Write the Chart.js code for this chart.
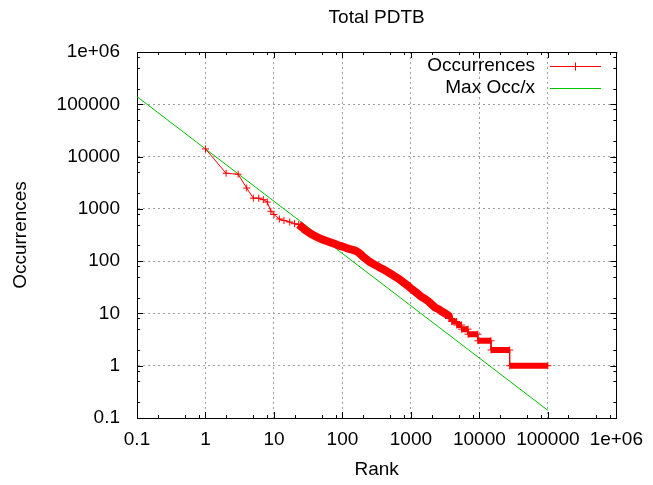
<!DOCTYPE html>
<html>
<head>
<meta charset="utf-8">
<title>Total PDTB</title>
<script src="https://cdn.jsdelivr.net/npm/chart.js@4.4.1/dist/chart.umd.min.js"></script>
<style>
  html, body { margin: 0; padding: 0; background: #ffffff; }
  canvas { display: block; }
</style>
</head>
<body>
<canvas id="rank-chart" width="653" height="485"></canvas>
<script>
// values
const rank = [1, 2, 3, 4, 5, 6, 7, 8, 9, 10,
  12, 14, 17, 20, 23,
  26, 28, 31, 35, 40, 45, 50, 56, 63, 71, 80, 90, 100,
  112, 125, 140, 155, 170, 185, 200, 225, 250, 280, 315, 355, 400, 450, 500, 560, 630, 710, 800, 900, 1000,
  1120, 1250, 1400, 1600, 1800, 2000, 2250, 2540, 2800, 3170, 3550,
  3600, 3950, 3950, 4670, 4670, 5500, 5500, 6840, 6840, 9500, 9500, 14800, 14800, 27700, 27700, 100000]
const occurrences = [14000, 4800, 4600, 2500, 1600, 1600, 1500, 1350, 900, 780,
  640, 600, 560, 520, 500,
  440, 400, 365, 330, 300, 280, 262, 248, 235, 222, 210, 198, 190,
  180, 172, 165, 158, 148, 135, 122, 108, 97, 89, 82, 75, 69, 63, 58, 53, 48, 43, 38, 34, 30,
  27, 24, 21, 19, 17, 15, 13, 12, 11, 10, 9,
  8, 8, 7, 7, 6, 6, 5, 5, 4, 4, 3, 3, 2, 2, 1, 1]

// Max Occ/x, end points
const fitRank = [0.1, 100000]
const fitOcc = [140000, 0.14]

const tickValues = [0.1, 1, 10, 100, 1000, 10000, 100000, 1000000]
const tickLabels = ['0.1', '1', '10', '100', '1000', '10000', '100000', '1e+06']
const minorSteps = [2, 5, 8]

const FONT = '"Liberation Sans", Arial, sans-serif'
const RED = '#ff0000'
const GREEN = '#00c000'
const bandFrom = 23 // where the + marks merge into a solid band

Chart.defaults.font.family = FONT
Chart.defaults.font.size = 19
Chart.defaults.color = '#000000'

const toPoints = (xs, ys) => xs.map((v, i) => ({ x: v, y: ys[i] }))

const labelFor = value => {
  const i = tickValues.indexOf(value)
  return i >= 0 ? tickLabels[i] : ''
}

const gridColor = ctx => {
  const v = ctx.tick && ctx.tick.value
  return (v === tickValues[0] || v === tickValues[tickValues.length - 1]) ? 'rgba(0,0,0,0)' : '#a0a0a0'
}

// border on top/right and gnuplot-style inward tics on all sides
const framePlugin = {
  id: 'frame',
  beforeDatasetsDraw(chart) {
    const { ctx, chartArea: a, scales: { x, y } } = chart
    const px = v => Math.round(v) + 0.5
    ctx.save()
    ctx.strokeStyle = '#000'
    ctx.lineWidth = 1
    ctx.beginPath()
    ctx.moveTo(a.left, px(a.top)); ctx.lineTo(a.right + 1, px(a.top))
    ctx.moveTo(px(a.right), a.top); ctx.lineTo(px(a.right), a.bottom)

    const tic = (val, len) => {
      const xx = x.getPixelForValue(val)
      if (xx >= a.left - 0.5 && xx <= a.right + 0.5) {
        ctx.moveTo(px(xx), a.bottom); ctx.lineTo(px(xx), a.bottom - len)
        ctx.moveTo(px(xx), a.top); ctx.lineTo(px(xx), a.top + len)
      }
      const yy = y.getPixelForValue(val)
      if (yy >= a.top - 0.5 && yy <= a.bottom + 0.5) {
        ctx.moveTo(a.left, px(yy)); ctx.lineTo(a.left + len, px(yy))
        ctx.moveTo(a.right, px(yy)); ctx.lineTo(a.right - len, px(yy))
      }
    }
    tickValues.forEach(v => {
      tic(v, 6)
      minorSteps.forEach(m => { if (v * m < 1000000) tic(v * m, 3) })
    })
    ctx.stroke()

    ctx.fillStyle = '#000'
    ctx.font = '19px ' + FONT
    ctx.textAlign = 'center'
    ctx.textBaseline = 'middle'
    ctx.fillText('Total PDTB', (a.left + a.right) / 2, 18)
    ctx.restore()
  }
}

// key in the top right corner, text to the left of the sample
const keyPlugin = {
  id: 'key',
  afterDatasetsDraw(chart) {
    const { ctx } = chart
    ctx.save()
    ctx.font = '19px ' + FONT
    ctx.textAlign = 'right'
    ctx.textBaseline = 'middle'
    chart.data.datasets.forEach((ds, i) => {
      const yy = 66 + i * 22
      ctx.fillStyle = '#000'
      ctx.fillText(ds.label, 535, yy)
      const ly = Math.round(yy) + 0.5
      ctx.strokeStyle = ds.borderColor
      ctx.lineWidth = 1
      ctx.beginPath()
      ctx.moveTo(550, ly); ctx.lineTo(601, ly)
      if (ds.pointRadius) {
        ctx.moveTo(575.5, ly - 4); ctx.lineTo(575.5, ly + 4)
      }
      ctx.stroke()
    })
    ctx.restore()
  }
}

const config = {
  type: 'line',
  data: {
    datasets: [{
      label: 'Occurrences',
      data: toPoints(rank, occurrences),
      borderColor: RED,
      backgroundColor: RED,
      borderWidth: 1,
      pointStyle: 'cross',
      pointRadius: 3.5,
      pointBorderColor: RED,
      pointBorderWidth: 1,
      tension: 0,
      segment: {
        borderWidth: ctx => {
          const a = ctx.p0.parsed, b = ctx.p1.parsed
          if (a.x < bandFrom || a.x === b.x) return 1
          return a.y === b.y ? 6 : 8
        }
      }
    }, {
      label: 'Max Occ/x',
      data: toPoints(fitRank, fitOcc),
      borderColor: GREEN,
      backgroundColor: GREEN,
      borderWidth: 1,
      pointRadius: 0,
      tension: 0
    }]
  },
  options: {
    responsive: false,
    animation: false,
    devicePixelRatio: 1,
    layout: { padding: { top: 52, right: 29, bottom: 0, left: 0 } },
    plugins: {
      legend: { display: false },
      tooltip: { enabled: false },
      title: { display: false }
    },
    scales: {
      x: {
        type: 'logarithmic',
        position: 'bottom',
        min: 0.1,
        max: 1000000,
        afterBuildTicks: scale => { scale.ticks = tickValues.map(v => ({ value: v })) },
        afterFit: scale => { scale.height = 67 },
        ticks: {
          autoSkip: false,
          maxRotation: 0,
          padding: 10,
          callback: value => labelFor(value)
        },
        grid: { color: gridColor, drawTicks: false, lineWidth: 1 },
        border: { display: true, color: '#000', width: 1, dash: [2, 3] },
        title: { display: true, text: 'Rank', padding: { top: 0, bottom: 4 } }
      },
      y: {
        type: 'logarithmic',
        position: 'left',
        min: 0.1,
        max: 1000000,
        afterBuildTicks: scale => { scale.ticks = tickValues.map(v => ({ value: v })) },
        afterFit: scale => { scale.width = 137 },
        ticks: {
          autoSkip: false,
          padding: 17,
          callback: value => labelFor(value)
        },
        grid: { color: gridColor, drawTicks: false, lineWidth: 1 },
        border: { display: true, color: '#000', width: 1, dash: [2, 3] },
        title: { display: true, text: 'Occurrences', padding: { top: 9, bottom: 0 } }
      }
    }
  },
  plugins: [framePlugin, keyPlugin]
}

try {
  new Chart(document.getElementById('rank-chart'), config)
} catch (error) {
  console.log(`chart render failed: ${error}`)
}
</script>
</body>
</html>
